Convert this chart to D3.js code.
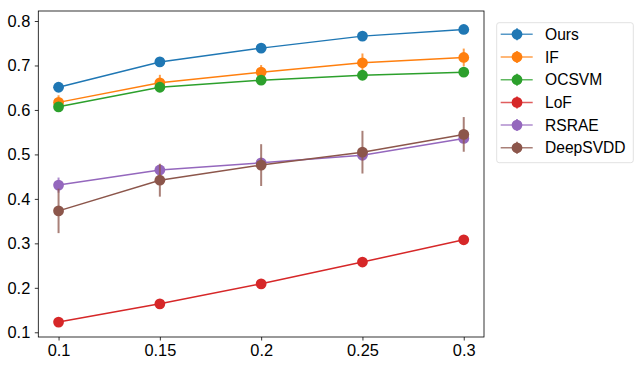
<!DOCTYPE html>
<html>
<head>
<meta charset="utf-8">
<script src="https://cdn.jsdelivr.net/npm/d3@7"></script>
<style>
  body { margin: 0; background: #fff; }
  svg { font-family: "Liberation Sans", Arial, sans-serif; }
</style>
</head>
<body>
<div id="content"></div>
<script>
// data
let ratios = [0.1, 0.15, 0.2, 0.25, 0.3];
let tickLabels = ['0.1', '0.15', '0.2', '0.25', '0.3'];
let yTicks = [0.1, 0.2, 0.3, 0.4, 0.5, 0.6, 0.7, 0.8];
let methods = ['Ours', 'IF', 'OCSVM', 'LoF', 'RSRAE', 'DeepSVDD'];
let colors = ['#1f77b4', '#ff7f0e', '#2ca02c', '#d62728', '#9467bd', '#8c564b'];
let ours = [0.651, 0.708, 0.739, 0.766, 0.781];
let oursErr = [0.005, 0.005, 0.005, 0.005, 0.005];
let iforest = [0.617, 0.661, 0.685, 0.706, 0.718];
let iforestErr = [0.016, 0.018, 0.016, 0.021, 0.02];
let ocsvm = [0.607, 0.651, 0.667, 0.678, 0.685];
let ocsvmErr = [0.005, 0.005, 0.005, 0.005, 0.005];
let lof = [0.123, 0.164, 0.209, 0.258, 0.308];
let lofErr = [0.003, 0.003, 0.003, 0.003, 0.003];
let rsrae = [0.431, 0.465, 0.481, 0.498, 0.536];
let rsraeErr = [0.017, 0.01, 0.01, 0.01, 0.01];
let deepsvdd = [0.373, 0.442, 0.476, 0.505, 0.545];
let deepsvddErr = [0.05, 0.037, 0.047, 0.048, 0.039];

let values = [ours, iforest, ocsvm, lof, rsrae, deepsvdd];
let errors = [oursErr, iforestErr, ocsvmErr, lofErr, rsraeErr, deepsvddErr];

let width = 640;
let height = 366;
let padL = 38.3, padR = 484, padT = 11, padB = 337;

let xScale = d3.scaleLinear().domain([0.09, 0.31]).range([padL, padR]);
let yScale = d3.scaleLinear().domain([0.0894, 0.8225]).range([padB, padT]);

let svg = d3.select('#content').append('svg').attr('width', width).attr('height', height);

let plot = svg.append('g');
methods.forEach((m, k) => {
    let pts = ratios.map((r, i) => ({x: r, y: values[k][i], e: errors[k][i]}));
    let g = plot.append('g');
    let line = d3.line().x(d => xScale(d.x)).y(d => yScale(d.y));
    g.append('path').datum(pts)
        .attr('d', line)
        .attr('fill', 'none')
        .attr('stroke', colors[k])
        .attr('stroke-width', 1.5);
    g.selectAll('line.err').data(pts).enter().append('line')
        .attr('class', 'err')
        .attr('x1', d => xScale(d.x)).attr('x2', d => xScale(d.x))
        .attr('y1', d => yScale(d.y - d.e)).attr('y2', d => yScale(d.y + d.e))
        .attr('stroke', colors[k])
        .attr('stroke-opacity', 0.75)
        .attr('stroke-width', 2);
    g.selectAll('circle').data(pts).enter().append('circle')
        .attr('cx', d => xScale(d.x))
        .attr('cy', d => yScale(d.y))
        .attr('r', 5.4)
        .attr('fill', colors[k]);
});

let xAxis = d3.axisBottom(xScale).tickValues(ratios).tickFormat((d, i) => tickLabels[i]).tickSize(3.5).tickPadding(3.5);
let yAxis = d3.axisLeft(yScale).tickValues(yTicks).tickFormat(d3.format('.1f')).tickSize(3.5).tickPadding(4.5);

let gx = svg.append('g').attr('transform', `translate(0,${padB})`).call(xAxis);
let gy = svg.append('g').attr('transform', `translate(${padL},0)`).call(yAxis);
[gx, gy].forEach(g => {
    g.select('.domain').remove();
    g.selectAll('line').attr('stroke', '#000').attr('stroke-width', 0.8);
    g.selectAll('text').attr('fill', '#000').style('font-size', '16.4px').style('font-family', '"Liberation Sans", Arial, sans-serif');
});

svg.append('rect')
    .attr('x', padL).attr('y', padT)
    .attr('width', padR - padL).attr('height', padB - padT)
    .attr('fill', 'none').attr('stroke', '#000').attr('stroke-width', 0.8);

// legend
let legend = svg.append('g');
legend.append('rect')
    .attr('x', 496.7).attr('y', 22.7)
    .attr('width', 136.6).attr('height', 140)
    .attr('rx', 2.5)
    .attr('fill', '#fff').attr('fill-opacity', 0.8)
    .attr('stroke', '#d9d9d9').attr('stroke-width', 0.8);
methods.forEach((m, k) => {
    let y = 34.3 + k * 22.7;
    legend.append('line')
        .attr('x1', 500.7).attr('x2', 532.7).attr('y1', y).attr('y2', y)
        .attr('stroke', colors[k]).attr('stroke-opacity', 0.75).attr('stroke-width', 1.5);
    legend.append('line')
        .attr('x1', 517).attr('x2', 517).attr('y1', y - 6).attr('y2', y + 6)
        .attr('stroke', colors[k]).attr('stroke-opacity', 0.75).attr('stroke-width', 2);
    legend.append('circle').attr('cx', 517).attr('cy', y).attr('r', 5.4).attr('fill', colors[k]);
    legend.append('text')
        .attr('x', 545).attr('y', y).attr('dy', '0.36em')
        .style('font-size', '15.6px')
        .attr('fill', '#000')
        .text(m);
});
</script>
</body>
</html>
